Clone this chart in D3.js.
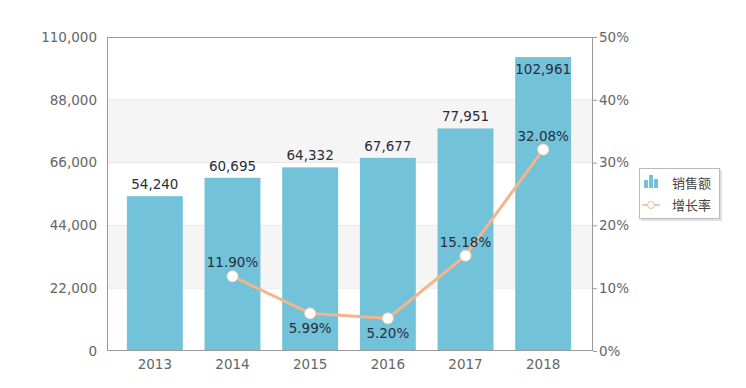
<!DOCTYPE html>
<html><head><meta charset="utf-8">
<script src="https://cdn.jsdelivr.net/npm/d3@7"></script>
<style>
html,body{margin:0;padding:0;background:#fff;}
svg{display:block;font-family:"DejaVu Sans",Verdana,sans-serif;}
</style></head>
<body><svg id="c" width="746" height="388"></svg>
<script>
const years = ["2013","2014","2015","2016","2017","2018"];
const sales = [54240, 60695, 64332, 67677, 77951, 102961];
const growth = [null, 11.90, 5.99, 5.20, 15.18, 32.08];
const leftTicks = [0, 22000, 44000, 66000, 88000, 110000];
const rightTicks = [0, 10, 20, 30, 40, 50];
const seriesNames = ["销售额", "增长率"];

const svg = d3.select("#c");
const L = 107, R = 593, T = 37, B = 351;
const fs = "13.5px";

const x = d3.scaleBand().domain(years).range([116, 582]).paddingInner(0.28).paddingOuter(0.14);
const y = d3.scaleLinear().domain([0, 110000]).range([B, T]);
const y2 = d3.scaleLinear().domain([0, 50]).range([B, T]);

// alternating bands
for (let i = 0; i < leftTicks.length - 1; i++) {
  svg.append("rect").attr("x", L).attr("width", R - L)
    .attr("y", y(leftTicks[i+1])).attr("height", y(leftTicks[i]) - y(leftTicks[i+1]))
    .attr("fill", i % 2 === 1 ? "#f5f5f5" : "#ffffff");
}
// gridlines
svg.append("g").selectAll("line").data(leftTicks.slice(1, -1)).join("line")
  .attr("x1", L).attr("x2", R).attr("y1", d => y(d)).attr("y2", d => y(d))
  .attr("stroke", "#e8e8e8").attr("stroke-width", 1);

// bars
svg.append("g").selectAll("rect").data(years).join("rect")
  .attr("x", d => x(d)).attr("width", x.bandwidth())
  .attr("y", (d, i) => y(sales[i])).attr("height", (d, i) => B - y(sales[i]))
  .attr("fill", "#72c2da");

// frame
svg.append("rect").attr("x", L + 0.5).attr("y", T + 0.5).attr("width", R - L - 1).attr("height", B - T - 1)
  .attr("fill", "none").attr("stroke", "#9a9a9a").attr("stroke-width", 1);

// left axis
const la = svg.append("g").attr("transform", `translate(${L},0)`)
  .call(d3.axisLeft(y).tickValues(leftTicks).tickFormat(d3.format(",")).tickSize(0).tickPadding(10));
la.select(".domain").remove();
la.selectAll("text").attr("fill", "#666").style("font-size", fs).style("font-family", "DejaVu Sans");

// right axis
const ra = svg.append("g").attr("transform", `translate(${R},0)`)
  .call(d3.axisRight(y2).tickValues(rightTicks).tickFormat(d => d + "%").tickSize(4).tickPadding(2));
ra.select(".domain").remove();
ra.selectAll("line").attr("stroke", "#9a9a9a");
ra.selectAll("text").attr("fill", "#666").style("font-size", fs).style("font-family", "DejaVu Sans");

// bottom axis
const ba = svg.append("g").attr("transform", `translate(0,${B})`)
  .call(d3.axisBottom(x).tickSize(0).tickPadding(8));
ba.select(".domain").remove();
ba.selectAll("text").attr("fill", "#666").style("font-size", fs).style("font-family", "DejaVu Sans");

// bar labels
svg.append("g").selectAll("text").data(years).join("text")
  .attr("x", d => x(d) + x.bandwidth() / 2)
  .attr("y", (d, i) => { const yy = y(sales[i]) - 7; return yy < T + 20 ? y(sales[i]) + 17 : yy; })
  .attr("text-anchor", "middle").attr("fill", "#2a2d3a").style("font-size", fs)
  .text((d, i) => d3.format(",")(sales[i]));

// line
const pts = years.map((d, i) => ({ yr: d, v: growth[i] })).filter(p => p.v !== null);
const line = d3.line().x(p => x(p.yr) + x.bandwidth() / 2).y(p => y2(p.v));
svg.append("path").datum(pts).attr("d", line).attr("fill", "none")
  .attr("stroke", "#f2b58c").attr("stroke-width", 3);
svg.append("g").selectAll("circle").data(pts).join("circle")
  .attr("cx", p => x(p.yr) + x.bandwidth() / 2).attr("cy", p => y2(p.v)).attr("r", 5.5)
  .attr("fill", "#fff").attr("stroke", "#f7d3bb").attr("stroke-width", 1);
const below = { "2015": true, "2016": true };
svg.append("g").selectAll("text").data(pts).join("text")
  .attr("x", p => x(p.yr) + x.bandwidth() / 2)
  .attr("y", p => below[p.yr] ? y2(p.v) + 20 : y2(p.v) - 9)
  .attr("text-anchor", "middle").attr("fill", "#2a2d3a").style("font-size", fs)
  .text(p => p.v.toFixed(2) + "%");

// legend
const lg = svg.append("g").attr("transform", "translate(639,168)");
lg.append("rect").attr("x", 2).attr("y", 2).attr("width", 81).attr("height", 51).attr("fill", "#ccc").attr("opacity", 0.6);
lg.append("rect").attr("x", 0.5).attr("y", 0.5).attr("width", 80).attr("height", 50)
  .attr("fill", "#fff").attr("stroke", "#bbb");
lg.append("rect").attr("x", 5).attr("y", 12).attr("width", 4).attr("height", 8).attr("fill", "#72c2da");
lg.append("rect").attr("x", 10).attr("y", 7).attr("width", 4).attr("height", 13).attr("fill", "#72c2da");
lg.append("rect").attr("x", 15).attr("y", 11).attr("width", 4).attr("height", 9).attr("fill", "#72c2da");
lg.append("line").attr("x1", 3).attr("x2", 21).attr("y1", 37).attr("y2", 37).attr("stroke", "#f2b58c").attr("stroke-width", 1.5);
lg.append("circle").attr("cx", 12).attr("cy", 37).attr("r", 3.5).attr("fill", "#fff").attr("stroke", "#f2b58c");
lg.append("text").attr("x", 33).attr("y", 20).text(seriesNames[0]).attr("fill", "#444")
  .style("font-size", "13px").style("font-family", "Noto Sans CJK SC");
lg.append("text").attr("x", 33).attr("y", 42).text(seriesNames[1]).attr("fill", "#444")
  .style("font-size", "13px").style("font-family", "Noto Sans CJK SC");
</script></body></html>
